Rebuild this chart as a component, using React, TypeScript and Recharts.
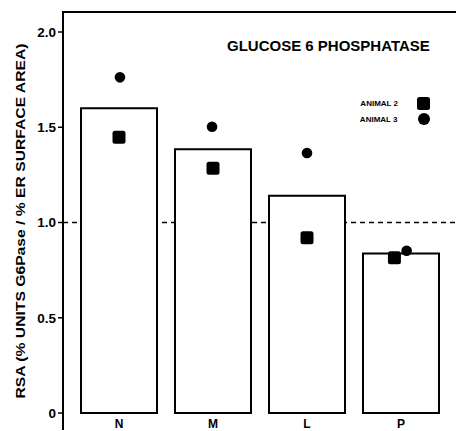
import React from "react";
import {
  Bar,
  ComposedChart,
  ReferenceLine,
  Scatter,
  XAxis,
  YAxis,
} from "recharts";

const categories = ["N", "M", "L", "P"];
const rsaValues = [1.6, 1.385, 1.14, 0.838];
const animal2Values = [1.447, 1.285, 0.92, 0.815];
const animal3Values = [1.762, 1.503, 1.365, 0.852];
// point positions along the category axis (index + 0.5 = centre of a bar)
const animal2Pos = [0.5, 1.5, 2.5, 3.43];
const animal3Pos = [0.51, 1.49, 2.5, 3.56];
const yTicks = [0, 0.5, 1, 1.5, 2];
const yTickLabels = ["0", "0.5", "1.0", "1.5", "2.0"];

const barData = categories.map((c, i) => ({ name: c, rsa: rsaValues[i] }));
const animal2Data = animal2Values.map((v, i) => ({ x: animal2Pos[i], y: v }));
const animal3Data = animal3Values.map((v, i) => ({ x: animal3Pos[i], y: v }));

const FONT = "'Liberation Sans', Arial, sans-serif";

const SquareDot = (props: any) => (
  <rect x={props.cx - 6.5} y={props.cy - 6.5} width={13} height={13} rx={2.5} fill="#000" />
);
const RoundDot = (props: any) => <circle cx={props.cx} cy={props.cy} r={5.3} fill="#000" />;

const CategoryTick = (props: any) => (
  <text
    x={props.x}
    y={428}
    textAnchor="middle"
    fontFamily={FONT}
    fontWeight={700}
    fontSize={12}
    fill="#000"
  >
    {props.payload.value}
  </text>
);

function AnimalLegend() {
  const row: React.CSSProperties = {
    display: "flex",
    alignItems: "center",
    justifyContent: "flex-end",
    height: 16,
    fontSize: 8,
    fontWeight: 700,
    fontFamily: FONT,
    color: "#000",
  };
  return (
    <div style={{ position: "absolute", right: 26, top: 95, width: 100, zIndex: 2 }}>
      <div style={row}>
        <span style={{ marginRight: 19 }}>ANIMAL 2</span>
        <span style={{ width: 13, height: 13, background: "#000", borderRadius: 2.5 }} />
      </div>
      <div style={row}>
        <span style={{ marginRight: 20 }}>ANIMAL 3</span>
        <span style={{ width: 12, height: 12, background: "#000", borderRadius: "50%", marginRight: 0.5 }} />
      </div>
    </div>
  );
}

export default function App() {
  return (
    <div style={{ position: "relative", width: 456, height: 431, background: "#fff" }}>
      <style>{"body{margin:0;background:#fff}"}</style>
      {/* top frame line of the plot box */}
      <div
        style={{
          position: "absolute",
          left: 62,
          width: 394,
          top: 11,
          height: 2,
          background: "#000",
          zIndex: 5,
        }}
      />
      <div
        style={{
          position: "absolute",
          left: 227,
          top: 37,
          fontFamily: FONT,
          fontWeight: 700,
          fontSize: 15,
          zIndex: 2,
        }}
      >
        GLUCOSE 6 PHOSPHATASE
      </div>
      <AnimalLegend />
      <ComposedChart
        width={456}
        height={431}
        data={barData}
        margin={{ top: 11, right: 0, bottom: 0, left: 0 }}
      >
        <XAxis
          dataKey="name"
          height={1}
          padding={{ left: 9, right: 8 }}
          axisLine={false}
          tickLine={false}
          tickSize={0}
          tickMargin={0}
          tick={CategoryTick}
        />
        <XAxis
          xAxisId="top"
          dataKey="x"
          type="number"
          orientation="top"
          domain={[0, 4]}
          height={1}
          padding={{ left: 9, right: 8 }}
          tick={false}
          tickLine={false}
          axisLine={false}
        />
        <YAxis
          width={63}
          domain={[-0.089, 2.105]}
          ticks={yTicks}
          allowDataOverflow
          tickFormatter={(v: number) => yTickLabels[yTicks.indexOf(v)] ?? String(v)}
          tickSize={5}
          tickMargin={2}
          axisLine={{ stroke: "#000", strokeWidth: 2 }}
          tickLine={{ stroke: "#000", strokeWidth: 1.5 }}
          tick={{ fontFamily: FONT, fontWeight: 700, fontSize: 13.5, fill: "#000" }}
          label={{
            content: () => (
              <text
                x={20}
                y={221}
                transform="rotate(-90 20 221)"
                textAnchor="middle"
                dominantBaseline="central"
                fontFamily={FONT}
                fontWeight={700}
                fontSize={13}
                textLength={355}
                lengthAdjust="spacingAndGlyphs"
                fill="#000"
              >
                RSA  (% UNITS G6Pase / % ER SURFACE AREA)
              </text>
            ),
          }}
        />
        <ReferenceLine
          y={1}
          stroke="#000"
          strokeWidth={1.5}
          strokeDasharray="5 4"
          zIndex={100}
        />
        <Bar
          dataKey="rsa"
          barSize={76}
          fill="#fff"
          stroke="#000"
          strokeWidth={2}
          isAnimationActive={false}
        />
        <Scatter
          name="ANIMAL 2"
          data={animal2Data}
          dataKey="y"
          xAxisId="top"
          shape={SquareDot}
          isAnimationActive={false}
        />
        <Scatter
          name="ANIMAL 3"
          data={animal3Data}
          dataKey="y"
          xAxisId="top"
          shape={RoundDot}
          isAnimationActive={false}
        />
      </ComposedChart>
    </div>
  );
}
